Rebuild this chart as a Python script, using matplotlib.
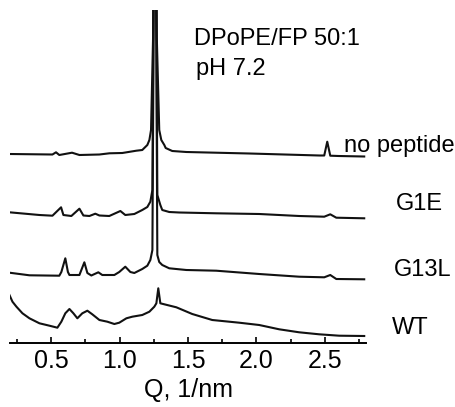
import matplotlib
matplotlib.use('Agg')
import matplotlib.pyplot as plt
from matplotlib.ticker import MultipleLocator

plt.rcParams['font.family'] = ['Liberation Sans', 'DejaVu Sans']

# scattering curves (Q in 1/nm, intensity in arbitrary units)
q_nopep = [0.196, 0.51, 0.536, 0.56, 0.653, 0.707, 0.853, 0.926, 1.02, 1.123, 1.166, 1.203, 1.218,
           1.23, 1.245, 1.259, 1.272, 1.29, 1.305, 1.327, 1.337, 1.385, 1.488, 1.948, 2.46, 2.495,
           2.517, 2.539, 2.6, 2.787]
i_nopep = [3, 2.5, 4.7, 2, 4.3, 2, 2.5, 3.7, 4, 6.3, 7, 12, 17,
           27, 120, 500, 120, 27, 17, 12, 9, 6, 5, 3.5, 1.5, 1.5,
           15.3, 1.3, 1, 0.5]

q_g1e = [0.196, 0.415, 0.51, 0.573, 0.59, 0.648, 0.707, 0.736, 0.78, 0.823, 0.853, 0.925, 1.006,
         1.042, 1.108, 1.166, 1.203, 1.225, 1.24, 1.259, 1.276, 1.298, 1.312, 1.363, 1.436, 1.706,
         2.02, 2.312, 2.495, 2.539, 2.583, 2.787]
i_g1e = [5.7, 3, 2.3, 10.7, 3, 2, 9.3, 2.5, 2, 4.3, 2.5, 2, 7,
         3, 4, 8, 11, 16.3, 28, 500, 23, 13, 8, 6, 5.5, 4.7,
         4, 2, 1.3, 3.7, 0.3, -0.3]

q_g13l = [0.196, 0.342, 0.56, 0.575, 0.604, 0.623, 0.634, 0.707, 0.743, 0.765, 0.794, 0.845, 0.874,
          0.962, 0.998, 1.042, 1.079, 1.108, 1.166, 1.203, 1.225, 1.24, 1.259, 1.276, 1.29, 1.312,
          1.363, 1.436, 1.488, 1.706, 2.02, 2.312, 2.495, 2.539, 2.583, 2.787]
i_g13l = [6.3, 3.7, 3.3, 7, 20.7, 7, 4, 4, 16.7, 6, 3.5, 6.7, 4,
          4, 7, 12.3, 7, 6, 10, 13.3, 19, 29, 500, 24, 17, 14,
          10.7, 9.7, 9, 8.3, 5, 2.3, 1.7, 4, 0, -0.3]

q_wt = [0.196, 0.218, 0.247, 0.291, 0.342, 0.415, 0.488, 0.546, 0.575, 0.604, 0.634, 0.663, 0.692,
        0.728, 0.765, 0.801, 0.853, 0.911, 0.962, 0.998, 1.05, 1.093, 1.166, 1.218, 1.254, 1.269,
        1.283, 1.298, 1.327, 1.415, 1.531, 1.677, 1.874, 2.02, 2.166, 2.312, 2.458, 2.604, 2.787]
i_wt = [48, 41.3, 36.3, 29.7, 24.7, 19.7, 17.3, 15.3, 21.3, 29.7, 34, 29.7, 24.7,
        29.7, 32.3, 28.7, 23, 21.3, 19, 20.3, 24.7, 26.3, 28, 31.3, 36.3, 39.7,
        54.7, 39.7, 38.7, 35.7, 29, 23, 20.3, 18, 13.7, 10.7, 8.7, 7.3, 7]

names = ['no peptide', 'G1E', 'G13L', 'WT']
curves = [(q_nopep, i_nopep), (q_g1e, i_g1e), (q_g13l, i_g13l), (q_wt, i_wt)]

# vertical stacking of the curves and where their names sit
offsets = [186, 125, 64, 0]
label_pos = [(2.64, 191), (3.02, 133), (3.005, 67), (2.99, 9)]

fig = plt.figure(figsize=(4.55, 4.07), dpi=100)
ax = fig.add_axes([10 / 455, 64 / 407, 356 / 455, 333 / 407])

for (q, inten), off, name, (tx, ty) in zip(curves, offsets, names, label_pos):
    ax.plot(q, [v + off for v in inten], color='#111111', lw=1.5, solid_joinstyle='round')
    ax.text(tx, ty, name, fontsize=17, ha='left', va='baseline', clip_on=False)

ax.text(1.547, 298, 'DPoPE/FP 50:1', fontsize=17, ha='left', va='baseline')
ax.text(1.555, 268, 'pH 7.2', fontsize=17, ha='left', va='baseline')

ax.set_xlim(0.2, 2.8)
ax.set_ylim(0, 333)
ax.set_yticks([])
for s in ['left', 'top', 'right']:
    ax.spines[s].set_visible(False)
ax.spines['bottom'].set_linewidth(1.4)
ax.xaxis.set_major_locator(MultipleLocator(0.5))
ax.xaxis.set_minor_locator(MultipleLocator(0.25))
ax.tick_params(axis='x', which='both', direction='in', width=1.2, labelsize=18, pad=4)
ax.tick_params(axis='x', which='major', length=4)
ax.tick_params(axis='x', which='minor', length=3)
ax.set_xlabel('Q, 1/nm', fontsize=18, labelpad=4)
ax.patch.set_alpha(0)

fig.savefig('out.png', dpi=100)
